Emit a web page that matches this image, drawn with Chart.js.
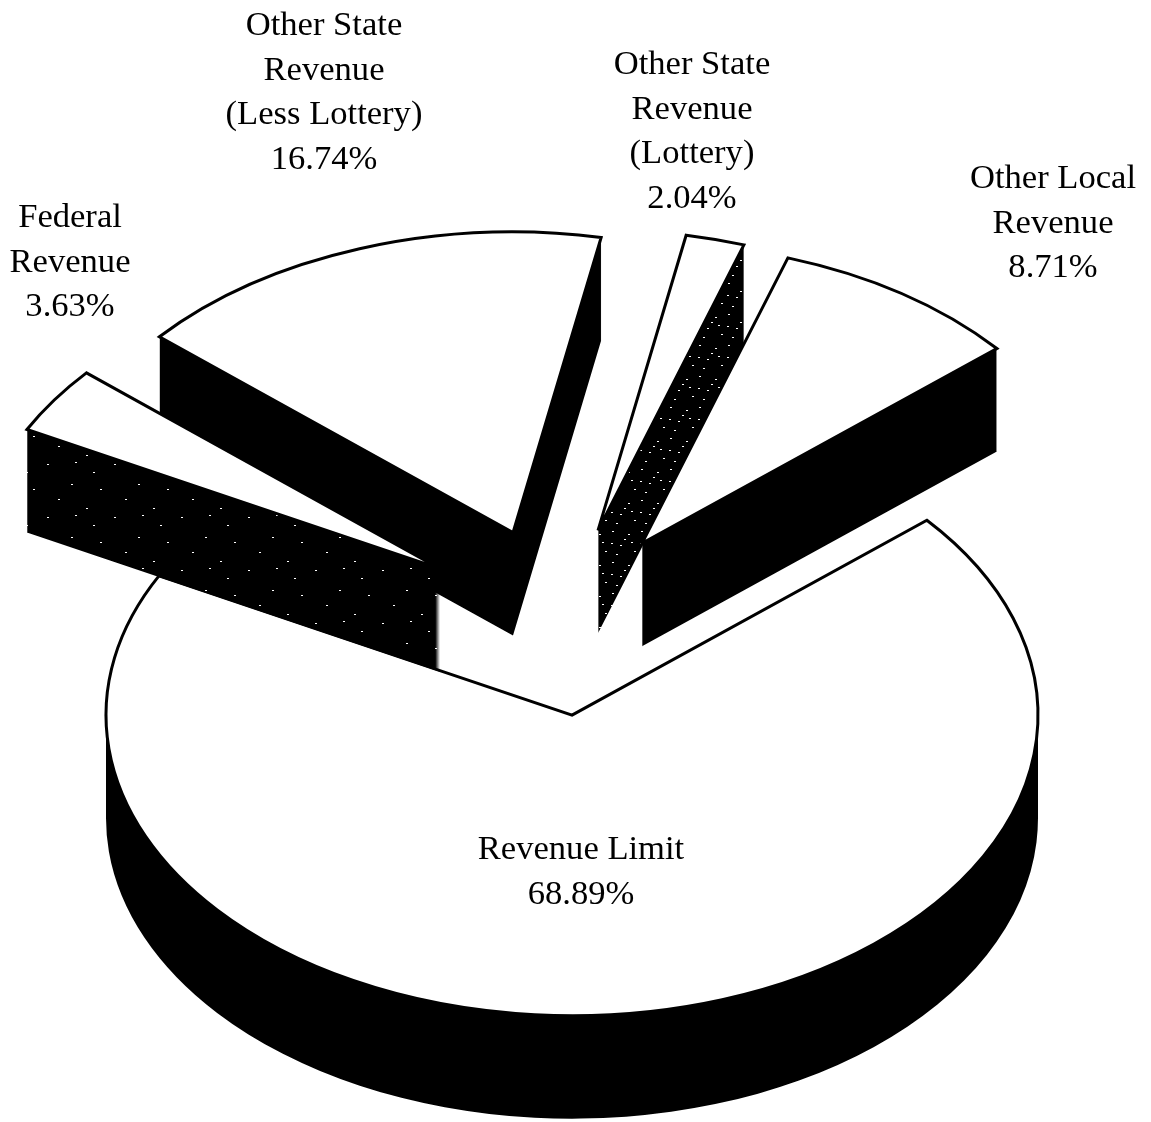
<!DOCTYPE html>
<html>
<head>
<meta charset="utf-8">
<title>Revenue</title>
<script src="https://cdn.jsdelivr.net/npm/chart.js@4/dist/chart.umd.js"></script>
<style>
    html, body { margin: 0; padding: 0; background: #fff; }
    canvas { display: block; }
</style>
</head>
<body>
<canvas id="graficoPizza" width="1151" height="1122"></canvas>
<script>
// values, clockwise from the right edge of Revenue Limit
const categorias = [
    ['Revenue Limit'],
    ['Federal', 'Revenue'],
    ['Other State', 'Revenue', '(Less Lottery)'],
    ['Other State', 'Revenue', '(Lottery)'],
    ['Other Local', 'Revenue']
]
const valores = [68.89, 3.63, 16.74, 2.04, 8.71]

// look of the fake 3D pie
const achatamento = 0.645
const profundidade = 103
const explosao = 146
const raio = 466
const ajusteX = [-5.5, 0, 0, 0, 0]
const ordemDesenho = [0, 2, 3, 4, 1]
const rotuloX = [581, 70, 324, 692, 1053]
const rotuloY = [850, 218, 26, 65, 179]
const alturaLinha = 44.7

// speck tiles for the two dithered walls: null means plain black
const salpicos = [
    null,
    { w: 67, h: 53, pontos: [[4, 7], [19, 31], [33, 12], [47, 40], [58, 22], [26, 48], [8, 38]] },
    null,
    { w: 29, h: 31, pontos: [[3, 4], [11, 18], [19, 7], [25, 24], [7, 27], [15, 12], [22, 15], [2, 16]] },
    null
]

const ctxPizza = document.getElementById('graficoPizza').getContext('2d')

function criarSalpicado(ctx, s) {
    const tile = document.createElement('canvas')
    tile.width = s.w
    tile.height = s.h
    const t = tile.getContext('2d')
    t.fillStyle = '#000'
    t.fillRect(0, 0, s.w, s.h)
    t.fillStyle = '#fff'
    s.pontos.forEach(p => t.fillRect(p[0], p[1], 2, 1))
    return ctx.createPattern(tile, 'repeat')
}

// adds one slice outline to the current path, dy pixels below the top surface
function caminhoFatia(ctx, arco, i, dy) {
    const meio = (arco.startAngle + arco.endAngle) / 2
    const px = Math.round(arco.x + Math.cos(meio) * explosao + ajusteX[i])
    const py = arco.y + Math.sin(meio) * explosao * achatamento + dy
    ctx.moveTo(px, py)
    ctx.ellipse(px, py, arco.outerRadius, arco.outerRadius * achatamento, 0, arco.startAngle, arco.endAngle)
    ctx.closePath()
}

const pizza3d = {
    id: 'pizza3d',
    beforeDatasetDraw(chart) {
        const ctx = chart.ctx
        const arcos = chart.getDatasetMeta(0).data

        ctx.save()
        ordemDesenho.forEach(i => {
            // wall: one path made of the outline swept down, so the edges stay clean
            ctx.beginPath()
            for (let dy = 1; dy <= profundidade; dy++) {
                caminhoFatia(ctx, arcos[i], i, dy)
            }
            ctx.fillStyle = salpicos[i] ? criarSalpicado(ctx, salpicos[i]) : '#000'
            ctx.fill()

            ctx.beginPath()
            caminhoFatia(ctx, arcos[i], i, 0)
            ctx.fillStyle = '#fff'
            ctx.fill()
            ctx.strokeStyle = '#000'
            ctx.lineWidth = 3
            ctx.stroke()
        })
        ctx.restore()
        return false
    },
    afterDraw(chart) {
        const ctx = chart.ctx
        ctx.save()
        ctx.fillStyle = '#000'
        ctx.font = '34.6px "Liberation Serif"'
        ctx.textAlign = 'center'
        ctx.textBaseline = 'middle'
        categorias.forEach((linhas, i) => {
            const texto = linhas.concat([valores[i].toFixed(2) + '%'])
            texto.forEach((linha, n) => {
                ctx.fillText(linha, rotuloX[i], rotuloY[i] + n * alturaLinha)
            })
        })
        ctx.restore()
    }
}

window.graficoPizza = new Chart(ctxPizza, {
    type: 'pie',
    data: {
        labels: categorias.map(x => x.join(' ')),
        datasets: [{
            data: valores,
            backgroundColor: '#fff',
            borderColor: '#000'
        }]
    },
    options: {
        responsive: false,
        animation: false,
        rotation: 49.6,
        radius: raio,
        layout: {
            padding: {
                left: 0,
                right: 29,
                top: 121,
                bottom: 0
            }
        },
        plugins: {
            legend: { display: false },
            tooltip: { enabled: false },
            title: { display: false }
        }
    },
    plugins: [pizza3d]
})
</script>
</body>
</html>
